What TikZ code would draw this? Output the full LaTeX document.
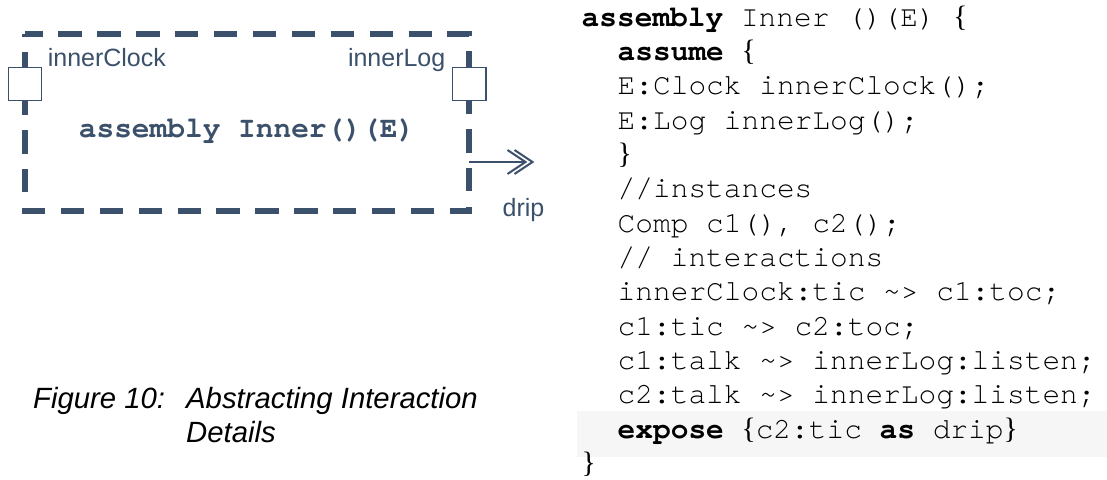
\documentclass[tikz,border=0pt]{standalone}
\usepackage{fontspec}
\setmainfont{Liberation Sans}
\newfontfamily\codefont{texgyrecursor}[Extension=.otf, UprightFont=*-regular, BoldFont=*-bold]
\newfontfamily\bracefont{Liberation Serif}
\definecolor{slate}{HTML}{3B506A}
\definecolor{hilite}{HTML}{F6F6F6}
\newcommand\cbl{{\bracefont\{}}
\newcommand\cbr{{\bracefont\}}}
\newcommand\tld{\textasciitilde}
\tikzset{
  codeline/.style={anchor=base west, inner sep=0pt, font=\codefont\fontsize{29.5}{34.35}\selectfont},
  lbl/.style={inner sep=0pt, text=slate, font=\fontsize{25}{30}\selectfont},
  portbox/.style={draw=slate, line width=1.2pt, fill=white, minimum width=33.4pt, minimum height=33pt, inner sep=0pt},
  boxline/.style={draw=slate, line width=5.8pt, dash pattern=on 23.3pt off 15.6pt, dash phase=5.3pt},
  shaft/.style={draw=slate, line width=1.5pt},
  chevron/.style={draw=slate, line width=2pt, line join=miter},
  captext/.style={anchor=base west, inner sep=0pt, font=\itshape\fontsize{29.3}{34}\selectfont}
}
\begin{document}
\begin{tikzpicture}[x=1pt,y=-1pt]
\useasboundingbox (0,0) rectangle (1107,479);
% left diagram
\node[draw=none, minimum width=444pt, minimum height=176.2pt, inner sep=0pt] (box) at (247,122.6) {};
\draw[boxline] (box.north west) -- (box.north east) -- (box.south east) -- (box.south west) -- cycle;
\node[portbox] (clk) at (25,84.2) {};
\node[portbox] (log) at (469.2,84) {};
\node[lbl, anchor=base west] (clkl) at (47.6,66) {innerClock};
\node[lbl, anchor=base east] (logl) at (445.5,66) {innerLog};
\node[anchor=base, inner sep=0pt, text=slate, font=\codefont\bfseries\fontsize{29.5}{34}\selectfont] (title) at (247,137) {assembly Inner()(E)};
\coordinate (dripend) at (532.5,162);
\draw[shaft] (box.east |- dripend) -- ([xshift=-8pt]dripend);
\draw[chevron] ([xshift=-18pt,yshift=12pt]dripend) -- (dripend) -- ([xshift=-18pt,yshift=-12pt]dripend);
\draw[chevron] ([xshift=-25pt,yshift=12pt]dripend) -- ([xshift=-7pt]dripend) -- ([xshift=-25pt,yshift=-12pt]dripend);
\node[lbl, anchor=base west] (drip) at (502.5,216.7) {drip};
% caption
\node[captext] (fig) at (33,408.5) {Figure 10:};
\node[captext] (cap1) at (186,408.5) {Abstracting Interaction};
\node[captext] (cap2) at (186,442.5) {Details};
% code
\fill[hilite] (577,411) rectangle (1107,457);
\node[codeline] (l0) at (581.5,26) {\textbf{assembly} Inner ()(E) \cbl};
\node[codeline] (l1) at (617.5,60.35) {\textbf{assume} \cbl};
\node[codeline] (l2) at (617.5,94.7) {E:Clock innerClock();};
\node[codeline] (l3) at (617.5,129.05) {E:Log innerLog();};
\node[codeline] (l4) at (617.5,163.4) {\cbr};
\node[codeline] (l5) at (617.5,197.75) {//instances};
\node[codeline] (l6) at (617.5,232.1) {Comp c1(), c2();};
\node[codeline] (l7) at (617.5,266.45) {// interactions};
\node[codeline] (l8) at (617.5,300.8) {innerClock:tic \tld> c1:toc;};
\node[codeline] (l9) at (617.5,335.15) {c1:tic \tld> c2:toc;};
\node[codeline] (l10) at (617.5,369.5) {c1:talk \tld> innerLog:listen;};
\node[codeline] (l11) at (617.5,403.85) {c2:talk \tld> innerLog:listen;};
\node[codeline] (l12) at (617.5,438.2) {\textbf{expose} \cbl c2:tic \textbf{as} drip\cbr};
\node[codeline] (l13) at (581.5,472.55) {\cbr};
\end{tikzpicture}
\end{document}
